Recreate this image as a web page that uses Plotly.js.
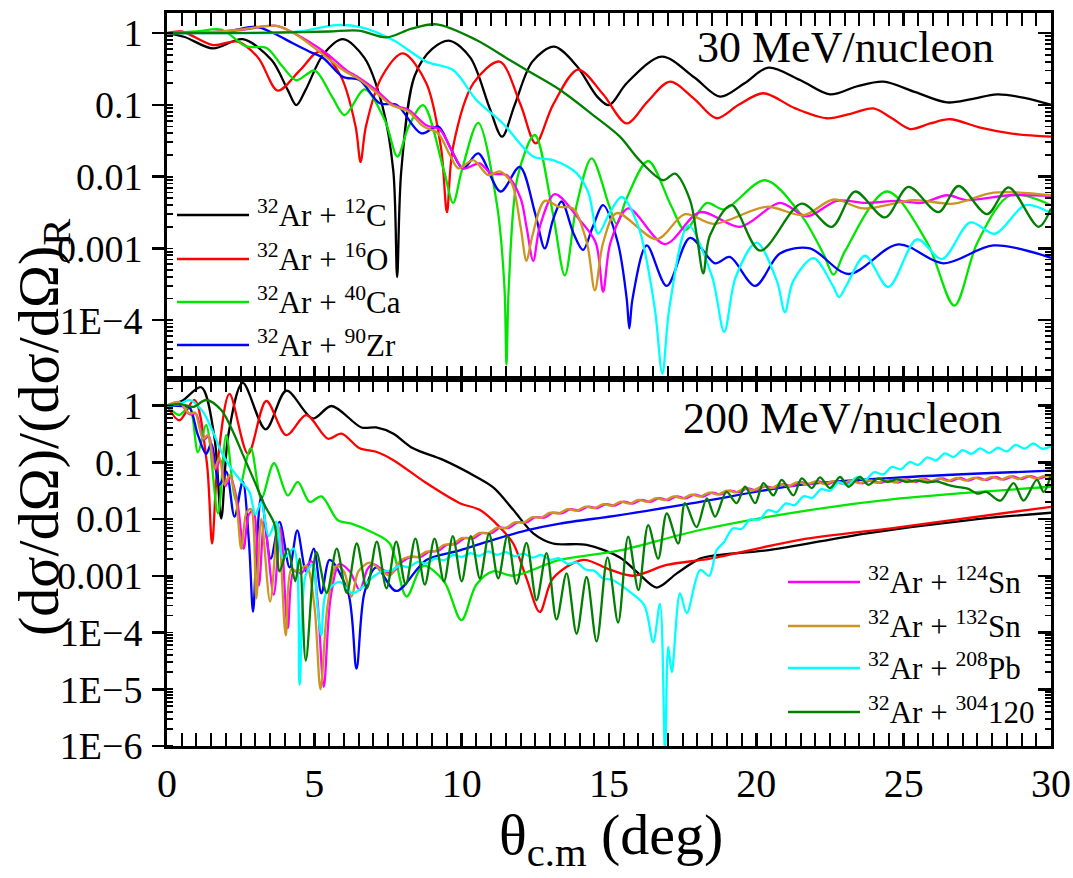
<!DOCTYPE html>
<html>
<head>
<meta charset="utf-8">
<script src="https://cdn.plot.ly/plotly-3.0.1.min.js"></script>
<style>
  html, body { margin: 0; padding: 0; background: #fff; }
  #chart { width: 1073px; height: 878px; }
</style>
</head>
<body>
<div id="chart"></div>
<script>
// ---------- 30 MeV/nucleon : ratio to Rutherford ----------
const x30C = [0, 0.6, 1.56, 2.57, 3.55, 4.1, 4.39, 4.7, 5.3, 5.97, 6.7, 7.3, 7.68, 7.81, 7.95, 8.4, 9.0, 9.6, 10.3, 10.95, 11.37, 11.8, 12.4, 13.14, 13.9, 14.6, 15.0, 15.6, 16.79, 17.9, 18.77, 19.6, 20.41, 21.5, 22.5, 23.4, 24.31, 25.4, 26.47, 27.3, 28.17, 29.1, 30];
const y30C = [1, 0.88, 0.61, 0.82, 0.42, 0.16, 0.099, 0.16, 0.5, 0.82, 0.45, 0.1, 0.012, 4e-4, 0.012, 0.25, 0.6, 0.78, 0.45, 0.09, 0.036, 0.1, 0.4, 0.645, 0.35, 0.13, 0.099, 0.2, 0.47, 0.24, 0.13, 0.2, 0.33, 0.22, 0.14, 0.18, 0.21, 0.15, 0.108, 0.12, 0.14, 0.125, 0.10];

const x30O = [0, 0.5, 1.56, 2.4, 3.1, 3.76, 4.5, 5.18, 5.9, 6.4, 6.57, 6.75, 7.3, 8.01, 8.8, 9.3, 9.5, 9.7, 10.4, 11.29, 12.0, 12.51, 13.1, 13.95, 14.8, 15.6, 16.3, 17.07, 17.9, 18.65, 19.4, 20.24, 21.3, 22.39, 23.2, 23.97, 24.6, 25.22, 25.9, 26.58, 27.6, 28.62, 30];
const y30O = [1, 1.05, 0.68, 0.76, 0.45, 0.158, 0.3, 0.55, 0.25, 0.05, 0.016, 0.05, 0.25, 0.52, 0.2, 0.025, 0.0032, 0.025, 0.2, 0.40, 0.1, 0.029, 0.1, 0.31, 0.14, 0.055, 0.11, 0.21, 0.12, 0.065, 0.1, 0.145, 0.09, 0.065, 0.075, 0.089, 0.065, 0.046, 0.055, 0.063, 0.048, 0.04, 0.036];

const x30Ca = [0, 1.0, 1.84, 2.69, 3.38, 3.9, 4.39, 5.01, 5.6, 6.03, 6.71, 7.4, 7.82, 8.2, 8.69, 9.4, 9.71, 10.0, 10.56, 11.2, 11.45, 11.52, 11.6, 11.9, 12.48, 13.1, 13.5, 13.9, 14.41, 15.0, 15.26, 15.6, 16.33, 17.1, 17.58, 18.32, 18.9, 20.3, 21.5, 22.3, 22.62, 23.0, 24.43, 25.8, 26.72, 27.5, 28.62, 30];
const y30Ca = [1, 1.05, 1.12, 0.65, 0.62, 0.35, 0.22, 0.30, 0.13, 0.072, 0.164, 0.06, 0.019, 0.05, 0.099, 0.012, 0.0043, 0.012, 0.056, 0.004, 3e-4, 2.4e-5, 3e-4, 0.01, 0.038, 0.003, 4.2e-4, 0.004, 0.018, 0.004, 0.0022, 0.005, 0.0165, 0.004, 0.0018, 0.0043, 0.0035, 0.0089, 0.003, 8e-4, 4.3e-4, 9e-4, 0.0062, 0.0012, 1.6e-4, 0.0012, 0.0055, 0.004];

const x30Zr = [0, 1.5, 2.2, 3.03, 3.6, 4.27, 4.84, 5.3, 5.97, 6.54, 7.22, 7.79, 8.63, 9.2, 9.6, 10.05, 10.56, 11.32, 11.97, 12.5, 12.82, 13.1, 13.39, 13.8, 14.12, 14.45, 14.8, 15.3, 15.6, 15.69, 15.8, 16.28, 16.96, 17.75, 18.6, 19.1, 19.96, 20.8, 21.82, 23.13, 24.82, 26.35, 28.05, 30];
const y30Zr = [1, 1.02, 1.08, 1.22, 1.0, 0.72, 0.55, 0.45, 0.245, 0.22, 0.105, 0.1, 0.040, 0.05, 0.026, 0.013, 0.021, 0.0062, 0.0137, 0.003, 0.001, 0.0025, 0.0045, 0.0016, 9.5e-4, 0.002, 0.004, 0.0012, 2e-4, 7.7e-5, 2e-4, 0.0011, 3.0e-4, 0.0014, 6.2e-4, 7.6e-4, 3.0e-4, 8.5e-4, 0.001, 4.4e-4, 0.00114, 6.2e-4, 0.0011, 7.4e-4];

const x30Sn124 = [0, 1.5, 2.5, 3.71, 4.3, 5.41, 6.1, 6.54, 7.1, 7.67, 8.2, 8.8, 9.26, 9.71, 10.05, 10.61, 11.0, 11.52, 12.0, 12.2, 12.43, 12.65, 13.16, 14.0, 14.55, 14.8, 15.05, 15.65, 16.9, 18.09, 19.45, 20.8, 21.71, 22.73, 23.7, 24.8, 25.6, 26.47, 27.15, 28.6, 30];
const y30Sn124 = [1, 1.03, 1.1, 1.26, 1.0, 0.52, 0.3, 0.235, 0.16, 0.1, 0.085, 0.052, 0.045, 0.021, 0.013, 0.0153, 0.011, 0.0105, 0.005, 0.002, 6.7e-4, 0.002, 0.0057, 0.0025, 0.0012, 2.5e-4, 0.0012, 0.0036, 0.00115, 0.0032, 0.002, 0.0043, 0.0028, 0.0046, 0.0043, 0.0046, 0.0043, 0.0055, 0.0047, 0.0055, 0.0054];

const x30Sn132 = [0, 1.5, 2.5, 3.71, 4.3, 5.3, 6.0, 6.5, 7.0, 7.6, 8.2, 8.7, 9.2, 9.6, 9.9, 10.39, 10.9, 11.29, 11.7, 12.0, 12.2, 12.4, 12.82, 13.3, 13.78, 14.25, 14.52, 14.8, 15.26, 16.62, 17.58, 18.54, 20.35, 21.6, 22.62, 23.63, 25.33, 26.7, 28.05, 30];
const y30Sn132 = [1, 1.03, 1.12, 1.26, 1.0, 0.5, 0.3, 0.23, 0.16, 0.1, 0.08, 0.05, 0.04, 0.02, 0.013, 0.017, 0.0105, 0.0118, 0.008, 0.002, 6.7e-4, 0.0015, 0.0046, 0.0038, 0.0036, 0.0012, 2.6e-4, 0.0012, 0.0031, 0.00134, 0.003, 0.0022, 0.0038, 0.0029, 0.0048, 0.0036, 0.0047, 0.0042, 0.006, 0.0055];

const x30Pb = [0, 2, 3.5, 4.5, 5.75, 6.6, 7.67, 8.8, 9.71, 10.5, 11.4, 12.43, 13.1, 13.9, 14.3, 14.63, 15.0, 15.43, 16.0, 16.55, 16.81, 17.05, 17.69, 18.5, 18.91, 19.3, 20.01, 20.7, 20.97, 21.25, 21.94, 22.6, 22.81, 23.05, 23.69, 24.48, 25.45, 26.3, 27.26, 28.1, 29.13, 30];
const y30Pb = [1, 1.0, 1.0, 1.05, 1.29, 1.2, 0.8, 0.4, 0.305, 0.117, 0.055, 0.019, 0.017, 0.0112, 0.006, 0.0016, 0.003, 0.0052, 0.002, 1.5e-4, 1.8e-5, 1.5e-4, 0.0021, 4e-4, 6.9e-5, 4e-4, 0.0012, 3.5e-4, 1.3e-4, 3.5e-4, 7.3e-4, 3e-4, 2.1e-4, 3e-4, 7.9e-4, 2.9e-4, 0.00134, 7.1e-4, 0.0023, 0.0016, 0.004, 0.0031];

const x30X = [0, 2, 4, 5.5, 6.5, 7.45, 8.3, 9.15, 10.5, 11.63, 12.2, 13.33, 14.46, 15.37, 16.03, 16.84, 17.24, 17.75, 17.98, 18.2, 18.42, 19.16, 20.13, 21.54, 22.56, 23.35, 24.37, 25.16, 26.18, 26.86, 27.83, 28.56, 29.58, 30];
const y30X = [1, 1.0, 1.02, 1.05, 1.08, 0.87, 1.15, 1.32, 0.8, 0.42, 0.305, 0.162, 0.072, 0.036, 0.017, 0.0089, 0.011, 0.0047, 0.0015, 4.5e-4, 0.0015, 0.004, 9.3e-4, 0.0042, 0.0020, 0.0062, 0.0027, 0.0072, 0.0032, 0.0074, 0.003, 0.0071, 0.002, 0.0036];

// ---------- 200 MeV/nucleon ----------
const x200C = [0, 0.5, 1.16, 1.6, 1.84, 2.08, 2.57, 3.35, 4.05, 4.95, 5.58, 6.6, 7.1, 7.67, 8.35, 9.37, 10.5, 11.1, 11.75, 12.43, 13.1, 14.24, 15.37, 16.0, 16.62, 17.3, 18.09, 18.65, 20.35, 23.75, 27.15, 30];
const y200C = [1, 1.2, 2.1, 0.3, 0.0102, 0.3, 2.5, 0.38, 1.82, 0.59, 0.98, 0.41, 0.41, 0.32, 0.176, 0.11, 0.055, 0.035, 0.0145, 0.0056, 0.0037, 0.0035, 0.0021, 0.0011, 6.2e-4, 0.0011, 0.002, 0.0023, 0.0028, 0.0056, 0.0095, 0.0129];

const x200O = [0, 0.42, 0.93, 1.35, 1.53, 1.72, 2.12, 2.75, 3.37, 4.05, 4.73, 5.46, 5.92, 6.54, 7.1, 7.67, 8.8, 9.94, 10.61, 11.29, 11.75, 12.2, 12.65, 13.1, 14.12, 15.0, 15.82, 16.96, 18.43, 21.48, 24.88, 30];
const y200O = [1, 0.55, 1.25, 0.1, 0.0037, 0.1, 1.6, 0.14, 1.2, 0.30, 0.68, 0.26, 0.32, 0.176, 0.153, 0.11, 0.043, 0.019, 0.0145, 0.0072, 0.0037, 0.0009, 2.3e-4, 9e-4, 0.0019, 0.0013, 0.001, 0.00155, 0.002, 0.0043, 0.0072, 0.0164];

const x200Ca = [0, 0.42, 0.76, 1.05, 1.33, 1.73, 2.01, 2.35, 2.84, 3.2, 3.63, 4.1, 4.44, 4.84, 5.24, 5.8, 6.26, 6.94, 7.56, 8.13, 8.69, 9.4, 9.99, 10.5, 11.07, 11.75, 13.33, 15.37, 18.09, 21.48, 24.88, 30];
const y200Ca = [1, 0.68, 0.95, 0.15, 0.45, 0.0126, 0.30, 0.021, 0.176, 0.023, 0.096, 0.026, 0.045, 0.020, 0.025, 0.0095, 0.0083, 0.0059, 0.0037, 4.3e-4, 0.0015, 8e-4, 1.65e-4, 7e-4, 0.0012, 0.001, 0.0019, 0.0028, 0.0064, 0.0135, 0.023, 0.037];

const x200Zr = [0, 0.5, 0.76, 1.05, 1.33, 1.5, 1.78, 2.01, 2.29, 2.57, 2.78, 2.92, 3.05, 3.2, 3.52, 3.82, 4.16, 4.42, 4.72, 4.98, 5.24, 5.52, 6.15, 6.43, 6.7, 7.1, 7.78, 8.8, 9.94, 11.07, 12.2, 13.33, 15.37, 18.09, 21.48, 24.88, 30];
const y200Zr = [1, 0.98, 0.93, 0.30, 0.14, 0.21, 0.04, 0.068, 0.011, 0.045, 0.004, 2.3e-4, 0.004, 0.025, 0.002, 0.0089, 0.0014, 0.0063, 0.0012, 0.003, 4.9e-4, 0.0019, 5e-4, 2.3e-5, 5e-4, 0.0014, 5.4e-4, 0.0019, 0.0028, 0.0043, 0.0063, 0.0083, 0.0117, 0.02, 0.04, 0.054, 0.071];

const x200Sn124 = [0, 0.42, 0.76, 0.98, 1.25, 1.42, 1.64, 1.81, 1.98, 2.15, 2.4, 2.6, 2.78, 2.93, 3.12, 3.3, 3.62, 3.85, 4.1, 4.3, 4.55, 4.9, 5.1, 5.32, 5.55, 5.85, 6.2, 6.54, 6.8, 6.99, 7.3, 7.6, 8.0,
  8.3, 8.6, 8.9, 9.2, 9.5, 9.8, 10.1, 10.4, 10.7, 11.0, 11.3, 11.6, 11.9, 12.2, 12.5, 12.8, 13.1, 13.4, 13.7, 14.0, 14.3, 14.6, 14.9, 15.2, 15.5, 15.8, 16.1, 16.4, 16.7, 17.0, 17.3, 17.6, 17.9, 18.2, 18.5, 18.8, 19.1, 19.4, 19.7, 20.0, 20.3, 20.6, 20.9, 21.2, 21.5, 21.8, 22.1, 22.4, 22.7, 23.0, 23.3, 23.6, 23.9, 24.2, 24.5, 24.8, 25.1, 25.4, 25.7, 26.0, 26.3, 26.6, 26.9, 27.2, 27.5, 27.8, 28.1, 28.4, 28.7, 29.0, 29.3, 29.6, 29.9, 30];
const y200Sn124 = [1, 1.12, 0.7, 0.72, 0.25, 0.29, 0.075, 0.11, 0.038, 0.055, 0.018, 0.003, 0.012, 0.014, 6.8e-4, 0.009, 4.6e-4, 0.007, 1.2e-4, 0.0012, 0.0011, 0.0018, 4e-4, 1.1e-5, 4e-4, 0.0016, 0.0012, 5.6e-4, 0.0013, 0.0016, 0.0013, 0.0011, 0.0018,
  0.00215, 0.00214, 0.00266, 0.00273, 0.00352, 0.00361, 0.00461, 0.00456, 0.00568, 0.00561, 0.00702, 0.00697, 0.00873, 0.00869, 0.01076, 0.01052, 0.0129, 0.0126, 0.01496, 0.01403, 0.01656, 0.01552, 0.01832, 0.01718, 0.02028, 0.01871, 0.02173, 0.02009, 0.02333, 0.02158, 0.02506, 0.02317, 0.02692, 0.02489, 0.02911, 0.0271, 0.0317, 0.0295, 0.0346, 0.0321, 0.0377, 0.035, 0.041, 0.0381, 0.0447, 0.0406, 0.0458, 0.0412, 0.0466, 0.0419, 0.0473, 0.0426, 0.0481, 0.0433, 0.0489, 0.044, 0.0498, 0.0448, 0.0507, 0.0457, 0.0518, 0.0466, 0.0528, 0.0475, 0.0538, 0.0485, 0.055, 0.0494, 0.0561, 0.0505, 0.0571, 0.0515, 0.0583, 0.0555];

const x200Sn132 = [0, 0.42, 0.76, 0.95, 1.22, 1.39, 1.61, 1.78, 1.95, 2.12, 2.35, 2.52, 2.7, 2.85, 3.03, 3.2, 3.5, 3.77, 4.03, 4.22, 4.45, 4.73, 5.0, 5.21, 5.45, 5.75, 6.0, 6.26, 6.5, 6.88, 7.3, 7.56, 7.9,
  8.2, 8.5, 8.8, 9.1, 9.4, 9.7, 10.0, 10.3, 10.6, 10.9, 11.2, 11.5, 11.8, 12.1, 12.4, 12.7, 13.0, 13.3, 13.6, 13.9, 14.2, 14.5, 14.8, 15.1, 15.4, 15.7, 16.0, 16.3, 16.6, 16.9, 17.2, 17.5, 17.8, 18.1, 18.4, 18.7, 19.0, 19.3, 19.6, 19.9, 20.2, 20.5, 20.8, 21.1, 21.4, 21.7, 22.0, 22.3, 22.6, 22.9, 23.2, 23.5, 23.8, 24.1, 24.4, 24.7, 25.0, 25.3, 25.6, 25.9, 26.2, 26.5, 26.8, 27.1, 27.4, 27.7, 28.0, 28.3, 28.6, 28.9, 29.2, 29.5, 29.8, 30];
const y200Sn132 = [1, 1.15, 0.72, 0.75, 0.26, 0.30, 0.078, 0.12, 0.04, 0.059, 0.02, 0.003, 0.013, 0.015, 4e-4, 0.01, 3.5e-4, 0.0083, 8.9e-5, 0.0013, 0.0012, 0.0015, 3e-4, 1e-5, 3e-4, 0.0015, 0.0012, 4.3e-4, 0.0012, 0.0017, 0.0012, 0.001, 0.0018,
  0.00215, 0.00214, 0.00266, 0.00273, 0.00352, 0.00361, 0.00461, 0.00456, 0.00568, 0.00561, 0.00702, 0.00697, 0.00873, 0.00869, 0.01076, 0.01052, 0.0129, 0.0126, 0.01496, 0.01403, 0.01656, 0.01552, 0.01832, 0.01718, 0.02028, 0.01871, 0.02173, 0.02009, 0.02333, 0.02158, 0.02506, 0.02317, 0.02692, 0.02489, 0.02911, 0.0271, 0.0317, 0.0295, 0.0346, 0.0321, 0.0377, 0.035, 0.041, 0.0381, 0.0447, 0.0406, 0.0458, 0.0412, 0.0466, 0.0419, 0.0473, 0.0426, 0.0481, 0.0433, 0.0489, 0.044, 0.0498, 0.0448, 0.0507, 0.0457, 0.0518, 0.0466, 0.0528, 0.0475, 0.0538, 0.0485, 0.055, 0.0494, 0.0561, 0.0505, 0.0571, 0.0515, 0.0583, 0.0525];

const x200Pb = [0, 0.4, 0.76, 1.2, 1.61, 1.84, 2.18, 2.52, 2.8, 3.0, 3.2, 3.45, 3.7, 3.95, 4.3, 4.5, 4.7, 4.95, 5.1, 5.24, 5.4, 5.86, 6.31, 6.99,
  7.3, 7.6, 7.9, 8.2, 8.5, 8.8, 9.1, 9.4, 9.7, 10.0, 10.3, 10.6, 10.9, 11.2, 11.5, 11.8, 12.1, 12.4, 12.7, 13.0, 13.3, 13.6, 13.9, 14.2, 14.5, 14.8, 15.1,
  15.71, 16.2, 16.5, 16.73, 16.9, 17.01, 17.13, 17.41, 17.64, 18.09, 18.4, 18.65,
  18.9, 19.2, 19.5, 19.8, 20.1, 20.4, 20.7, 21.0, 21.3, 21.6, 21.9, 22.2, 22.5, 22.8, 23.1, 23.4, 23.7, 24.0, 24.3, 24.6, 24.9, 25.2, 25.5, 25.8, 26.1, 26.4, 26.7, 27.0, 27.3, 27.6, 27.9, 28.2, 28.5, 28.8, 29.1, 29.4, 29.7, 30];
const y200Pb = [1, 1.05, 1.26, 0.8, 0.3, 0.153, 0.078, 0.046, 0.03, 0.012, 0.02, 0.005, 0.009, 0.002, 0.003, 1.2e-5, 0.001, 0.0016, 3e-4, 9e-5, 5e-4, 7.8e-4, 4.9e-4, 9.5e-4,
  0.0012, 0.00123, 0.00151, 0.00141, 0.00176, 0.00164, 0.00202, 0.00188, 0.00232, 0.00214, 0.00251, 0.00224, 0.00269, 0.00234, 0.0026, 0.00221, 0.00245, 0.00209, 0.00232, 0.00191, 0.00204, 0.00162, 0.00172, 0.00129, 0.00123, 8.9e-4, 8.5e-4,
  5.2e-4, 3e-4, 6.8e-5, 3.2e-4, 8e-7, 5.6e-5, 2e-5, 4.9e-4, 2.2e-4, 0.00126, 0.001, 0.0028,
  0.0039, 0.0068, 0.0067, 0.0099, 0.0097, 0.0143, 0.0133, 0.0188, 0.0176, 0.0251, 0.0237, 0.0335, 0.0316, 0.0442, 0.0398, 0.0543, 0.049, 0.0668, 0.061, 0.083, 0.075, 0.101, 0.090, 0.122, 0.108, 0.143, 0.124, 0.164, 0.140, 0.176, 0.145, 0.18, 0.155, 0.202, 0.174, 0.214, 0.173, 0.19];

const x200X = [0, 0.5, 0.9, 1.33, 1.84, 2.18, 2.63, 2.97, 3.31, 3.65, 3.82, 4.1, 4.35, 4.5, 4.71, 5.07, 5.42, 5.76, 6.1, 6.44, 6.78, 7.12, 7.45, 7.78, 8.1, 8.43, 8.75, 9.08, 9.4, 9.7, 10.0, 10.31, 10.62, 10.93, 11.24, 11.55, 11.86, 12.2, 12.54, 12.88, 13.22, 13.56, 13.9, 14.24, 14.58, 14.95, 15.31, 15.65, 16.0, 16.33, 16.67, 16.96, 17.35, 17.58, 17.97, 18.32, 18.6, 18.99, 19.33, 19.62, 19.96, 20.24, 20.58, 20.86, 21.26, 21.54, 21.88, 22.16, 22.5, 22.84, 23.13, 23.52, 23.8, 24.14, 24.45, 24.77, 25.1, 25.4, 25.8, 26.1, 26.5, 26.8, 27.2, 27.49, 27.8, 28.28, 28.73, 29.07, 29.52, 29.75, 30];
const y200X = [1, 1.05, 0.95, 1.25, 0.83, 0.40, 0.117, 0.046, 0.0176, 0.008, 0.0012, 0.003, 8e-4, 0.002, 3.2e-5, 0.0026, 5e-4, 0.003, 5e-4, 0.0037, 6e-4, 0.004, 6e-4, 0.004, 7e-4, 0.0045, 7e-4, 0.0045, 8e-4, 0.005, 8e-4, 0.005, 9e-4, 0.0055, 9e-4, 0.005, 7.2e-4, 0.0038, 3.7e-4, 0.0025, 1.7e-4, 0.0011, 9.5e-5, 9.5e-4, 7e-5, 0.0021, 1.5e-4, 0.0049, 5.6e-4, 0.0078, 0.002, 0.0126, 0.0037, 0.019, 0.0072, 0.023, 0.011, 0.030, 0.019, 0.037, 0.019, 0.043, 0.026, 0.049, 0.026, 0.052, 0.035, 0.054, 0.035, 0.055, 0.037, 0.055, 0.04, 0.052, 0.045, 0.05, 0.045, 0.048, 0.044, 0.046, 0.04, 0.037, 0.034, 0.028, 0.03, 0.021, 0.043, 0.021, 0.049, 0.03, 0.06];

// ---------- labels and styles ----------
const seriesColors = ['#000000', '#ff0000', '#00e600', '#0000ff', '#ff00ff', '#cc9420', '#00ffff', '#007f00'];
const legendTop = ['<sup>32</sup>Ar + <sup>12</sup>C', '<sup>32</sup>Ar + <sup>16</sup>O', '<sup>32</sup>Ar + <sup>40</sup>Ca', '<sup>32</sup>Ar + <sup>90</sup>Zr'];
const legendBottom = ['<sup>32</sup>Ar + <sup>124</sup>Sn', '<sup>32</sup>Ar + <sup>132</sup>Sn', '<sup>32</sup>Ar + <sup>208</sup>Pb', '<sup>32</sup>Ar + <sup>304</sup>120'];
const panelLabels = ['30 MeV/nucleon', '200 MeV/nucleon'];
const xTicks = [0, 5, 10, 15, 20, 25, 30];
const yTicksTop = [1, 0.1, 0.01, 0.001, 1e-4];
const yTextTop = ['1', '0.1', '0.01', '0.001', '1E\u22124'];
const yTicksBot = [1, 0.1, 0.01, 0.001, 1e-4, 1e-5, 1e-6];
const yTextBot = ['1', '0.1', '0.01', '0.001', '1E\u22124', '1E\u22125', '1E\u22126'];

const serif = 'Liberation Serif';
const W = 1073, H = 878;
const M = { l: 167, r: 22, t: 13, b: 132 };
const plotW = W - M.l - M.r, plotH = H - M.t - M.b;
const px2x = px => (px - M.l) / plotW;
const py2y = py => (H - M.b - py) / plotH;
const split = py2y(379);

const top30 = [[x30C, y30C], [x30O, y30O], [x30Ca, y30Ca], [x30Zr, y30Zr], [x30Sn124, y30Sn124], [x30Sn132, y30Sn132], [x30Pb, y30Pb], [x30X, y30X]];
const bot200 = [[x200C, y200C], [x200O, y200O], [x200Ca, y200Ca], [x200Zr, y200Zr], [x200Sn124, y200Sn124], [x200Sn132, y200Sn132], [x200Pb, y200Pb], [x200X, y200X]];
const names = legendTop.concat(legendBottom);

const traces = [];
top30.forEach((s, i) => traces.push({
  x: s[0], y: s[1], xaxis: 'x2', yaxis: 'y', type: 'scatter', mode: 'lines', name: names[i],
  line: { color: seriesColors[i], width: 2.3, shape: 'spline', smoothing: 0.9 }, hoverinfo: 'skip'
}));
bot200.forEach((s, i) => traces.push({
  x: s[0], y: s[1], xaxis: 'x', yaxis: 'y2', type: 'scatter', mode: 'lines', name: names[i],
  line: { color: seriesColors[i], width: 2.3, shape: 'spline', smoothing: 0.9 }, hoverinfo: 'skip'
}));
// empty traces so the right-hand tick axes get their own subplots
traces.push({ x: [], y: [], xaxis: 'x2', yaxis: 'y3', type: 'scatter', mode: 'lines', hoverinfo: 'skip' });
traces.push({ x: [], y: [], xaxis: 'x', yaxis: 'y4', type: 'scatter', mode: 'lines', hoverinfo: 'skip' });

const xCommon = {
  range: [0, 30], tickmode: 'array', tickvals: xTicks,
  ticks: 'inside', ticklen: 13, tickwidth: 2.5, tickcolor: '#000',
  minor: { dtick: 0.5, tick0: 0, ticks: 'inside', ticklen: 6, tickwidth: 2, tickcolor: '#000' },
  showline: true, linewidth: 3, linecolor: '#000', mirror: 'allticks',
  showgrid: false, zeroline: false
};
const yLeft = {
  type: 'log', tickmode: 'array', ticks: 'outside', ticklen: 12, tickwidth: 2.5, tickcolor: '#000',
  minor: { dtick: 'D1', ticks: 'inside', ticklen: 6, tickwidth: 1.8, tickcolor: '#000' },
  showline: true, linewidth: 3, linecolor: '#000', mirror: true,
  showgrid: false, zeroline: false, ticklabelstandoff: 2,
  tickfont: { family: serif, size: 38, color: '#000' }
};
const yRight = {
  type: 'log', tickmode: 'array', ticks: 'inside', ticklen: 13, tickwidth: 2.5, tickcolor: '#000',
  minor: { dtick: 'D1', ticks: 'inside', ticklen: 6, tickwidth: 1.8, tickcolor: '#000' },
  showline: false, showticklabels: false, showgrid: false, zeroline: false, side: 'right'
};

const annotations = [];
panelLabels.forEach((t, i) => annotations.push({
  text: t, xref: 'paper', yref: 'paper', x: px2x(i === 0 ? 996 : 1004), y: py2y(i === 0 ? 47 : 418),
  xanchor: 'right', yanchor: 'middle', showarrow: false, font: { family: serif, size: 44, color: '#000' }
}));
const shapes = [];
const legTopRows = [215, 259, 302, 345];
const legBotRows = [582, 626, 668, 712];
legendTop.forEach((t, i) => {
  shapes.push({ type: 'line', xref: 'paper', yref: 'paper', x0: px2x(177), x1: px2x(249), y0: py2y(legTopRows[i]), y1: py2y(legTopRows[i]), line: { color: seriesColors[i], width: 2.3 } });
  annotations.push({ text: t, xref: 'paper', yref: 'paper', x: px2x(255), y: py2y(legTopRows[i] - 2), xanchor: 'left', yanchor: 'middle', showarrow: false, font: { family: serif, size: 31, color: '#000' } });
});
legendBottom.forEach((t, i) => {
  shapes.push({ type: 'line', xref: 'paper', yref: 'paper', x0: px2x(788), x1: px2x(860), y0: py2y(legBotRows[i]), y1: py2y(legBotRows[i]), line: { color: seriesColors[i + 4], width: 2.3 } });
  annotations.push({ text: t, xref: 'paper', yref: 'paper', x: px2x(866), y: py2y(legBotRows[i] - 2), xanchor: 'left', yanchor: 'middle', showarrow: false, font: { family: serif, size: 31, color: '#000' } });
});
// axis titles
annotations.push({
  text: '(d\u03c3/d\u03a9)/(d\u03c3/d\u03a9)<sub>R</sub>', xref: 'paper', yref: 'paper',
  x: px2x(42), y: py2y(428), xanchor: 'center', yanchor: 'middle', textangle: -90, showarrow: false,
  font: { family: serif, size: 58, color: '#000' }
});
annotations.push({
  text: '\u03b8<sub>c.m</sub> (deg)', xref: 'paper', yref: 'paper',
  x: px2x(611), y: py2y(838), xanchor: 'center', yanchor: 'middle', showarrow: false,
  font: { family: serif, size: 58, color: '#000' }
});

const layout = {
  width: W, height: H, margin: M, paper_bgcolor: '#fff', plot_bgcolor: '#fff', showlegend: false,
  font: { family: serif, color: '#000' },
  xaxis: Object.assign({}, xCommon, { anchor: 'y2', domain: [0, 1], showticklabels: true, ticktext: xTicks.map(String), ticklabelstandoff: 0, tickfont: { family: serif, size: 40, color: '#000' } }),
  xaxis2: Object.assign({}, xCommon, { anchor: 'y', domain: [0, 1], matches: 'x', showticklabels: false }),
  yaxis: Object.assign({}, yLeft, { domain: [split, 1], range: [-4.819, 0.279], tickvals: yTicksTop, ticktext: yTextTop, anchor: 'x2' }),
  yaxis2: Object.assign({}, yLeft, { domain: [0, split], range: [-6.0, 0.467], tickvals: yTicksBot, ticktext: yTextBot, anchor: 'x' }),
  yaxis3: Object.assign({}, yRight, { overlaying: 'y', anchor: 'x2', range: [-4.819, 0.279], tickvals: yTicksTop }),
  yaxis4: Object.assign({}, yRight, { overlaying: 'y2', anchor: 'x', range: [-6.0, 0.467], tickvals: yTicksBot }),
  annotations: annotations, shapes: shapes
};

Plotly.newPlot('chart', traces, layout, { staticPlot: true, displayModeBar: false });
</script>
</body>
</html>
